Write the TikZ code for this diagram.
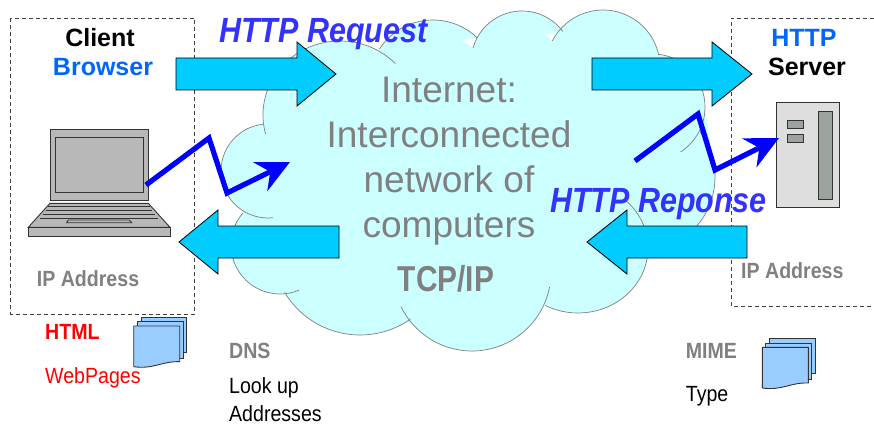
\documentclass[tikz,border=0pt]{standalone}
\usepackage{fontspec}
\setmainfont{Liberation Sans}
\usetikzlibrary{arrows.meta}
\definecolor{flowcyan}{HTML}{00CCFF}
\definecolor{cloudcyan}{HTML}{CCFFFF}
\definecolor{cloudgray}{HTML}{808080}
\definecolor{titleblue}{HTML}{0066FF}
\definecolor{msgblue}{HTML}{3333FF}
\definecolor{docblue}{HTML}{99CCFF}
\definecolor{laptopgray}{HTML}{B8B8B8}
\definecolor{servergray}{HTML}{DEDEDE}
\definecolor{slotgray}{HTML}{9CA39C}
\tikzset{
  cloudfill/.style={fill=cloudcyan},
  cloudline/.style={draw=cloudgray,line width=0.7pt},
  flowarrow/.style={draw=black,fill=flowcyan,line width=0.8pt},
  bolt/.style={draw=blue,line width=5.2pt,-{Stealth[length=33pt,width=32pt,inset=11pt]}},
  hostbox/.style={draw=black!75,dash pattern=on 4pt off 3pt,line width=0.9pt},
  hw/.style={draw=black!80,line width=0.9pt},
  title/.style={font=\fontsize{25}{27}\selectfont\bfseries,anchor=base},
  message/.style={font=\fontsize{35}{37}\selectfont\bfseries\itshape,text=msgblue,anchor=base west,xscale=.87,transform shape,inner sep=0pt},
  note/.style={font=\fontsize{22}{24}\selectfont,anchor=base west,xscale=.89,transform shape,inner sep=0pt},
  notebold/.style={note,text=cloudgray,font=\fontsize{22}{24}\selectfont\bfseries},
  docstack/.pic={
    \draw[hw,fill=docblue] (7.6,-8.7) rectangle (53,26.3);
    \draw[hw,fill=docblue] (3.6,-4.3) rectangle (49.3,32);
    \draw[hw,fill=docblue] (0,0) -- (46,0) -- (46,35.7) .. controls (28,35) and (20,43.5) .. (0,40.7) -- cycle;
  }
}
\begin{document}
\begin{tikzpicture}[x=1pt,y=-1pt]
\useasboundingbox (0,0) rectangle (874,425);
%Internet cloud
\fill[cloudfill] (263,125) -- (297,55) -- (380,50) -- (433,21) -- (473,48) -- (522,11) -- (553,42) -- (603,11)
  -- (658,55) -- (705,107) -- (715,177) -- (695,227) -- (648,257) -- (582,313) -- (547,303) -- (467,350)
  -- (408,322) -- (360,334) -- (285,292) -- (232,263) -- (243,213) -- (220,167) -- cycle;
\foreach \lobestyle in {cloudfill,cloudline}
{
  \foreach \cx/\cy/\rx/\ry/\anga/\angb in {340/115/77/74/165/316,433/84/64/64/213/314,522/62/51/51/196/323,
    603/67/57/57/207/348,653/107/52/53/-84/58,640/177/75/75/-37/42,578/248/70/65/-48/118,472/272/79/79/11/154,
    360/247/88/88/55/149,280/245/49/49/67/221,268/171/47/47/84/264}
  {
    \path[\lobestyle] ({\cx+\rx*cos(\anga)},{\cy+\ry*sin(\anga)}) arc[start angle=\anga,end angle=\angb,x radius=\rx,y radius=\ry];
  }
}
%host boxes
\draw[hostbox] (10.7,18) rectangle (194.7,314);
\draw[hostbox] (874,18) -- (731,18) -- (731,306) -- (874,306);
%request and response arrows
\foreach \xtail/\xbase/\xtip/\ymid in {176/297/336/74,592/712/752/74,339/218/179/242,747/627/587/242}
{
  \draw[flowarrow] (\xtail,\ymid-16) -- (\xbase,\ymid-16) -- (\xbase,\ymid-32) -- (\xtip,\ymid)
    -- (\xbase,\ymid+32) -- (\xbase,\ymid+16) -- (\xtail,\ymid+16) -- cycle;
}
%laptop
\draw[hw,fill=laptopgray] (50.3,129.3) rectangle (148.3,200);
\draw[hw,fill=laptopgray] (55.7,137) rectangle (143.3,192.3);
\draw[hw,fill=laptopgray] (50,203.3) -- (148.3,203.3) -- (170,227.3) -- (28.3,227.3) -- cycle;
\draw[hw,fill=laptopgray] (28.3,227.3) rectangle (170,236.3);
\foreach \yrow/\xleft/\xright in {206.7/48/150,210/46/152,214/43/155,218/40/158}
{
  \draw[hw] (\xleft,\yrow) -- (\xright,\yrow);
}
\draw[hw] (68.3,220) -- (129.3,220) -- (131.7,222.7) -- (66.7,222.7) -- cycle;
%server
\draw[hw,fill=servergray] (776.7,102.7) rectangle (839.3,207.3);
\draw[hw,fill=slotgray] (787.7,120.7) rectangle (803.3,128.7);
\draw[hw,fill=slotgray] (787.7,134.3) rectangle (803.3,142.7);
\draw[hw,fill=slotgray] (818.3,111) rectangle (832.7,199.3);
%documents
\pic at (133.7,326) {docstack};
\pic at (762.3,347.3) {docstack};
%lightning
\coordinate (laptopport) at (146,185);
\coordinate (cloudin) at (290,162);
\coordinate (cloudout) at (635,161);
\coordinate (serverport) at (779,138);
\draw[bolt] (laptopport) -- (209,138) -- (227,193) -- (cloudin);
\draw[bolt] (cloudout) -- (698,114) -- (715,170) -- (serverport);
%labels
\node[title] (client) at (100,46.7) {Client};
\node[title,text=titleblue] (browser) at (103,76) {Browser};
\node[title,text=titleblue] (http) at (804,46.7) {HTTP};
\node[title] (server) at (807,76) {Server};
\node[message] (request) at (219,42.7) {HTTP Request};
\node[message] (response) at (550,212.7) {HTTP Reponse};
\node[align=center,text=cloudgray,font=\fontsize{37}{45}\selectfont] (internet) at (449,161) {Internet:\\Interconnected\\network of\\computers};
\node[text=cloudgray,font=\fontsize{36}{38}\selectfont\bfseries,anchor=base,xscale=.83,transform shape] (tcpip) at (446,291.7) {TCP/IP};
\node[notebold] (clientip) at (36.7,286.7) {IP Address};
\node[notebold] (serverip) at (741,278) {IP Address};
\node[notebold,text=red] (html) at (45,339.3) {HTML};
\node[note,text=red] (webpages) at (45,383) {WebPages};
\node[notebold] (dns) at (229,358.3) {DNS};
\node[note] (lookup) at (229,393) {Look up};
\node[note] (addresses) at (229,421.7) {Addresses};
\node[notebold] (mime) at (685.7,358.3) {MIME};
\node[note] (mimetype) at (685.7,401.7) {Type};
\end{tikzpicture}
\end{document}
